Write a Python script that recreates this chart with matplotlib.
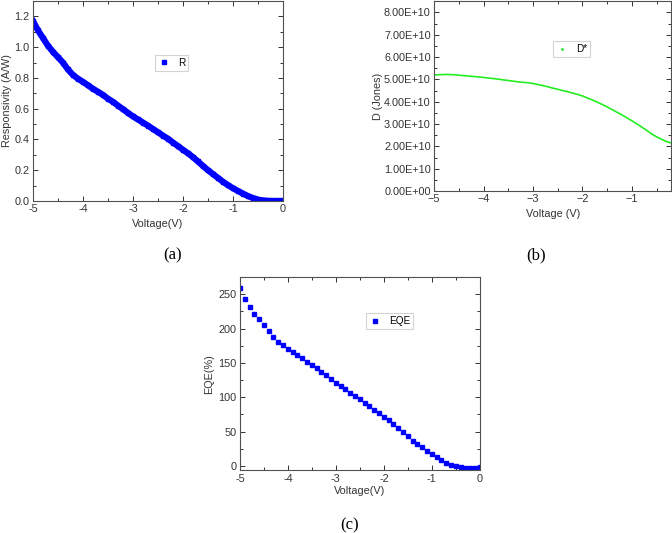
import numpy as np
import matplotlib.pyplot as plt
from matplotlib.ticker import MultipleLocator, FormatStrFormatter
from matplotlib.lines import Line2D

plt.rcParams["font.family"] = ["Liberation Sans", "DejaVu Sans"]

# bias voltage, 0.1 V steps
voltage = [round(-5.0 + 0.1 * i, 1) for i in range(51)]

responsivity = [1.17, 1.11, 1.06, 1.01, 0.97, 0.935, 0.90, 0.855, 0.82, 0.795,
                0.775, 0.752, 0.73, 0.71, 0.69, 0.665, 0.645, 0.62, 0.597, 0.573,
                0.55, 0.53, 0.51, 0.49, 0.468, 0.447, 0.425, 0.405, 0.38, 0.357,
                0.333, 0.31, 0.285, 0.257, 0.228, 0.20, 0.175, 0.15, 0.125, 0.103,
                0.083, 0.065, 0.048, 0.032, 0.019, 0.009, 0.003, 0.001, 0.0, 0.0, 0.0]

eqe = [259, 243, 231, 222, 214, 206, 196, 188, 181, 176,
       171, 166, 161, 157, 152, 147, 142, 137, 132, 127,
       121, 117, 112, 107, 102, 97, 92, 87, 82, 77,
       72, 67, 61, 55, 49, 43, 37, 32, 27, 22,
       17, 13, 9, 5, 2, 0, -2, -3, -3, -3, -1]

# detectivity, -5.0 .. -0.2 V (units of 1e10 Jones)
voltage_d = voltage[:49]
detectivity = [5.20, 5.21, 5.22, 5.22, 5.21, 5.19, 5.17, 5.15, 5.13, 5.11,
               5.09, 5.06, 5.04, 5.01, 4.98, 4.95, 4.92, 4.89, 4.87, 4.85,
               4.82, 4.77, 4.72, 4.67, 4.61, 4.56, 4.50, 4.45, 4.39, 4.33,
               4.26, 4.17, 4.08, 3.98, 3.88, 3.77, 3.65, 3.53, 3.41, 3.28,
               3.15, 3.01, 2.87, 2.72, 2.56, 2.43, 2.32, 2.22, 2.15]
detectivity = [d * 1e10 for d in detectivity]

BLUE = "#0000ff"
GREEN = "#22ee22"
AXC = "#333333"
FS = 7.8

fig = plt.figure(figsize=(6.72, 5.33), dpi=100)


def style(ax, xmin, xmax, ymin, ymax, xmaj, ymaj):
    ax.set_xlim(xmin, xmax)
    ax.set_ylim(ymin, ymax)
    ax.xaxis.set_major_locator(MultipleLocator(xmaj))
    ax.xaxis.set_minor_locator(MultipleLocator(xmaj / 2))
    ax.yaxis.set_major_locator(MultipleLocator(ymaj))
    ax.yaxis.set_minor_locator(MultipleLocator(ymaj / 2))
    ax.tick_params(which="both", direction="in", top=True, right=True,
                   colors=AXC, labelsize=FS, width=0.7, pad=2.5)
    ax.tick_params(which="major", length=3.5)
    ax.tick_params(which="minor", length=2)
    for s in ax.spines.values():
        s.set_color("#505050")
        s.set_linewidth(0.8)


def legend(ax, handle, label, x, y):
    lg = ax.legend([handle], [label], loc="upper left", bbox_to_anchor=(x, y),
                   fontsize=7.2, frameon=True, fancybox=False, numpoints=1,
                   handlelength=1.2, handletextpad=0.8, borderpad=0.3,
                   borderaxespad=0)
    lg.get_frame().set_edgecolor("#c8c8c8")
    lg.get_frame().set_linewidth(0.8)


# (a) responsivity
ax1 = fig.add_axes([0.049, 0.623, 0.372, 0.375])
ax1.plot(voltage, responsivity, "s-", color=BLUE, ms=3.3, lw=4.5)
style(ax1, -5, 0, 0, 1.3, 1, 0.2)
ax1.yaxis.set_major_formatter(FormatStrFormatter("%.1f"))
ax1.xaxis.set_major_formatter(FormatStrFormatter("%d"))
ax1.set_xlabel("Voltage(V)", fontsize=FS, color=AXC, labelpad=3)
ax1.set_ylabel("Responsivity (A/W)", fontsize=FS, color=AXC, labelpad=2)
legend(ax1, Line2D([], [], ls="", marker="s", ms=3.5, color=BLUE), "R", 0.488, 0.731)

# (b) detectivity
ax2 = fig.add_axes([0.646, 0.6416, 0.353, 0.356])
ax2.plot(voltage_d, detectivity, "-", color=GREEN, lw=1.2)
style(ax2, -5, -0.2, 0, 8.5e10, 1, 1e10)
ax2.yaxis.set_major_formatter(FormatStrFormatter("%.2E"))
ax2.set_xlabel("Voltage (V)", fontsize=FS, color=AXC, labelpad=3)
ax2.set_ylabel("D (Jones)", fontsize=FS, color=AXC, labelpad=1)
legend(ax2, Line2D([], [], ls="", marker=".", ms=2, color=GREEN), "D*", 0.502, 0.79)

# (c) EQE
ax3 = fig.add_axes([0.357, 0.118, 0.357, 0.362])
ax3.plot(voltage, eqe, "s", color=BLUE, ms=3.3)
style(ax3, -5, 0, -6, 275, 1, 50)
ax3.xaxis.set_major_formatter(FormatStrFormatter("%d"))
ax3.set_xlabel("Voltage(V)", fontsize=FS, color=AXC, labelpad=2)
ax3.set_ylabel("EQE(%)", fontsize=FS, color=AXC, labelpad=3)
legend(ax3, Line2D([], [], ls="", marker="s", ms=3.5, color=BLUE), "EQE", 0.525, 0.813)

for x, y, t in [(173, 255, "(a)"), (536, 255, "(b)"), (350, 525, "(c)")]:
    fig.text(x / 672, 1 - y / 533, t, ha="center", va="center",
             fontsize=12, family="Liberation Serif")

fig.savefig("out.png", dpi=100)
